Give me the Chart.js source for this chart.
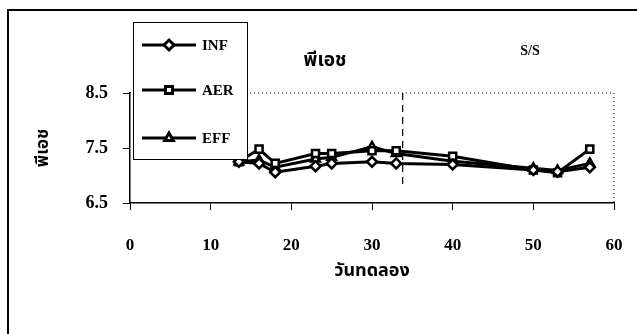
<!DOCTYPE html>
<html>
<head>
<meta charset="utf-8">
<script src="https://cdn.jsdelivr.net/npm/chart.js@4"></script>
<style>
  html, body { margin: 0; padding: 0; background: #fff; }
  #wrap { width: 637px; height: 334px; }
</style>
</head>
<body>
<div id="wrap"><canvas id="graficoPh"></canvas></div>
<script>
// วันทดลอง (day of experiment)
const dias = [13.5, 16, 18, 23, 25, 30, 33, 40, 50, 53, 57];
const phINF = [7.25, 7.22, 7.06, 7.17, 7.22, 7.25, 7.22, 7.20, 7.10, 7.07, 7.15];
const phAER = [7.25, 7.48, 7.22, 7.40, 7.40, 7.45, 7.45, 7.35, 7.10, 7.05, 7.48];
const phEFF = [7.25, 7.28, 7.15, 7.30, 7.33, 7.52, 7.40, 7.26, 7.13, 7.09, 7.22];
const ticksY = [6.5, 7.5, 8.5];
const nomes = ["INF", "AER", "EFF"];
const estilos = ["rectRot", "rect", "triangle"];
const diaSeparacao = 33.8;

const fonteSerif = "'Liberation Serif', 'Times New Roman', serif";
const fonteThai = "'Noto Sans Thai', 'Loma', 'Garuda', 'Norasi', 'Noto Sans', 'DejaVu Sans', sans-serif";

const montarSerie = (valores, i) => ({
    label: nomes[i],
    data: dias.map((d, k) => ({ x: d, y: valores[k] })),
    borderColor: "#000",
    backgroundColor: "#fff",
    borderWidth: 3,
    pointStyle: estilos[i],
    pointRadius: 5,
    pointBorderWidth: 2.5,
    pointBackgroundColor: "#fff",
    pointBorderColor: "#000",
    tension: 0
});

const molduraPlugin = {
    id: "moldura",
    beforeDraw(chart) {
        const c = chart.ctx;
        c.save();
        c.fillStyle = "#fff";
        c.fillRect(0, 0, chart.width, chart.height);
        c.strokeStyle = "#000";
        c.lineWidth = 2;
        c.beginPath();
        c.moveTo(8, chart.height);
        c.lineTo(8, 10);
        c.lineTo(chart.width, 10);
        c.stroke();
        c.restore();
    },
    beforeDatasetsDraw(chart) {
        const c = chart.ctx;
        const a = chart.chartArea;
        const sx = chart.scales.x;
        c.save();
        // top and right borders dotted
        c.strokeStyle = "#000";
        c.lineWidth = 1;
        c.setLineDash([1, 3]);
        c.beginPath();
        c.moveTo(a.left, a.top);
        c.lineTo(a.right, a.top);
        c.lineTo(a.right, a.bottom);
        c.stroke();
        // separation line
        const xs = sx.getPixelForValue(diaSeparacao);
        c.setLineDash([7, 5]);
        c.lineWidth = 1.2;
        c.beginPath();
        c.moveTo(xs, a.top);
        c.lineTo(xs, a.bottom - 18);
        c.stroke();
        c.setLineDash([]);
        // labels
        c.fillStyle = "#000";
        c.textAlign = "center";
        c.textBaseline = "middle";
        c.font = "bold 19px " + fonteThai;
        c.fillText("พีเอช", 325, 62);
        c.font = "bold 14px " + fonteSerif;
        c.fillText("S/S", 530, 51);
        c.restore();
    },
    afterDraw(chart) {
        const c = chart.ctx;
        const caixa = { x: 133, y: 22, w: 114, h: 137 };
        const linhas = [45, 90, 138];
        c.save();
        c.fillStyle = "#fff";
        c.fillRect(caixa.x, caixa.y, caixa.w, caixa.h);
        c.strokeStyle = "#000";
        c.lineWidth = 1;
        c.strokeRect(caixa.x + 0.5, caixa.y + 0.5, caixa.w, caixa.h);
        linhas.forEach((ly, i) => {
            c.lineWidth = 3;
            c.beginPath();
            c.moveTo(142, ly);
            c.lineTo(196, ly);
            c.stroke();
            c.fillStyle = "#fff";
            Chart.helpers.drawPoint(c, {
                pointStyle: estilos[i],
                radius: 5,
                borderWidth: 2.5
            }, 169, ly);
            c.fillStyle = "#000";
            c.font = "bold 15px " + fonteSerif;
            c.textAlign = "left";
            c.textBaseline = "middle";
            c.fillText(nomes[i], 202, ly + 1);
        });
        c.restore();
    }
};

const ctx = document.getElementById("graficoPh").getContext("2d");
Chart.defaults.font.family = fonteSerif;
Chart.defaults.color = "#000";

window.graficoPh = new Chart(ctx, {
    type: "line",
    data: {
        datasets: [montarSerie(phINF, 0), montarSerie(phAER, 1), montarSerie(phEFF, 2)]
    },
    plugins: [molduraPlugin],
    options: {
        responsive: true,
        maintainAspectRatio: false,
        animation: false,
        layout: { padding: { left: 10, top: 93, right: 23, bottom: 31 } },
        plugins: {
            legend: { display: false },
            tooltip: { enabled: false }
        },
        scales: {
            x: {
                type: "linear",
                min: 0,
                max: 60,
                ticks: {
                    stepSize: 10,
                    padding: 25,
                    font: { size: 17, weight: "bold" }
                },
                grid: { drawOnChartArea: false, drawTicks: true, tickLength: 7, color: "#000" },
                border: { color: "#000", width: 1.5 },
                title: {
                    display: true,
                    text: "วันทดลอง",
                    font: { size: 18, weight: "bold", family: fonteThai },
                    padding: { top: 0, bottom: 20 }
                },
                afterFit: s => {
                    s.height = 100;
                    s.paddingLeft = 0;
                    s.paddingRight = 0;
                }
            },
            y: {
                min: 6.5,
                max: 8.5,
                afterBuildTicks: s => { s.ticks = ticksY.map(v => ({ value: v })); },
                ticks: {
                    padding: 15,
                    font: { size: 18, weight: "bold" },
                    callback: v => v.toFixed(1)
                },
                grid: { drawOnChartArea: false, drawTicks: true, tickLength: 7, color: "#000" },
                border: { color: "#000", width: 1.5 },
                title: {
                    display: true,
                    text: "พีเอช",
                    font: { size: 17, weight: "bold", family: fonteThai },
                    padding: { top: 24, bottom: 0 }
                },
                afterFit: s => { s.width = 120; }
            }
        }
    }
});
</script>
</body>
</html>
